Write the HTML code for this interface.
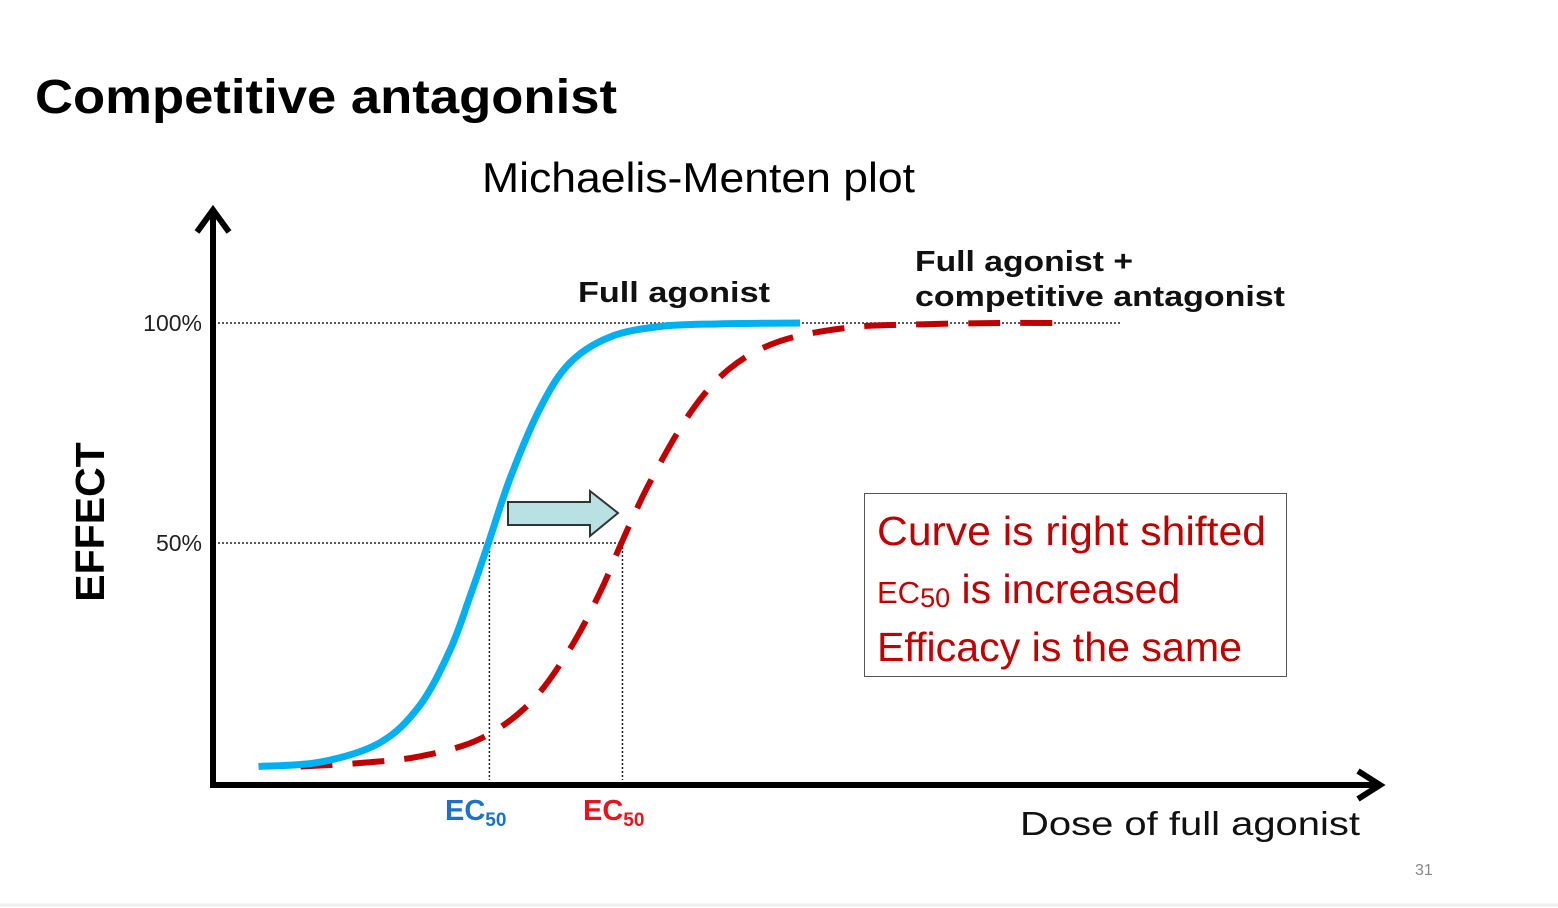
<!DOCTYPE html>
<html><head><meta charset="utf-8"><style>
body{margin:0;background:#fff;}
svg{display:block;font-family:"Liberation Sans",sans-serif;}
</style></head><body>
<svg width="1558" height="908" viewBox="0 0 1558 908">
<text x="35" y="113" font-size="48" font-weight="bold" fill="#000" textLength="582" lengthAdjust="spacingAndGlyphs">Competitive antagonist</text>
<text x="482" y="192" font-size="42" fill="#000" textLength="433" lengthAdjust="spacingAndGlyphs">Michaelis-Menten plot</text>
<g id="chart"></g>
<text x="0" y="0" transform="translate(104,522) rotate(-90)" text-anchor="middle" font-size="41" font-weight="bold">EFFECT</text>
<text x="1020" y="835" font-size="33" fill="#111" textLength="340" lengthAdjust="spacingAndGlyphs">Dose of full agonist</text>
<text x="915" y="271" font-size="29" font-weight="bold" fill="#111" textLength="218" lengthAdjust="spacingAndGlyphs">Full agonist +</text>
<text x="915" y="306" font-size="29" font-weight="bold" fill="#111" textLength="370" lengthAdjust="spacingAndGlyphs">competitive antagonist</text>
<text x="578" y="302" font-size="29" font-weight="bold" fill="#111" textLength="192" lengthAdjust="spacingAndGlyphs">Full agonist</text>
<text x="445" y="820" font-size="29" font-weight="bold" fill="#1a73c8">EC<tspan font-size="19" dy="6">50</tspan></text>
<text x="583" y="820" font-size="29" font-weight="bold" fill="#e8131b">EC<tspan font-size="19" dy="6">50</tspan></text>
<g>
<rect x="864.5" y="493.5" width="422" height="183" fill="#fff" stroke="#555" stroke-width="1"/>
<text x="877" y="545" font-size="41" fill="#c00000" textLength="389" lengthAdjust="spacingAndGlyphs">Curve is right shifted</text>
<text x="877" y="603" font-size="41" fill="#c00000"><tspan font-size="31">EC</tspan><tspan font-size="27" dy="4">50</tspan><tspan dy="-4"> is increased</tspan></text>
<text x="877" y="661" font-size="41" fill="#c00000" textLength="365" lengthAdjust="spacingAndGlyphs">Efficacy is the same</text>
</g>
<text x="1415" y="875" font-size="16" fill="#888">31</text>
<line x1="0" y1="905" x2="1558" y2="905" stroke="#eee" stroke-width="3"/>
</svg>
<script>
const yTickValues=[50,100];
const yTickLabels=["50%","100%"];
const agonistDose=[0.39,0.92,1.43,1.77,2.03,2.20,2.36,2.55,2.81,3.06,3.40,3.83,4.34,5.03];
const agonistEffect=[-0.8,0.2,4.6,13,25.6,37.7,50,65,81,91,96.8,99.2,99.8,100];
const antagonistDose=[0.75,1.26,1.77,2.29,2.72,3.06,3.32,3.50,3.74,4.09,4.43,4.86,5.46,6.06,6.74,7.26];
const antagonistEffect=[-0.8,0,1.5,5.5,13.7,26,39,50,63.6,79.6,89.7,95.9,99,99.7,100,100];
const ec50Agonist=2.36;
const ec50Antagonist=3.50;

const NS="http://www.w3.org/2000/svg";
const g=document.getElementById('chart');
const X0=213,XPX=116.7,Y0=763,YPX=4.4;
function xs(d){return X0+d*XPX;}
function ys(e){return Y0-e*YPX;}
function mk(tag,attrs){const el=document.createElementNS(NS,tag);for(const k in attrs)el.setAttribute(k,attrs[k]);g.appendChild(el);return el;}
function smooth(xsArr,ysArr){
  const p=xsArr.map((d,i)=>[xs(d),ys(ysArr[i])]);
  let s='M'+p[0][0]+','+p[0][1];
  for(let i=0;i<p.length-1;i++){
    const p0=p[i-1]||p[i],p1=p[i],p2=p[i+1],p3=p[i+2]||p2;
    const c1=[p1[0]+(p2[0]-p0[0])/6,p1[1]+(p2[1]-p0[1])/6];
    const c2=[p2[0]-(p3[0]-p1[0])/6,p2[1]-(p3[1]-p1[1])/6];
    s+=' C'+c1+' '+c2+' '+p2;
  }
  return s;
}
yTickValues.forEach((v,i)=>{
  const xEnd=v===100?1120:xs(ec50Antagonist);
  const l=mk('line',{x1:218,y1:ys(v),x2:xEnd,y2:ys(v),stroke:'#222','stroke-width':1.5,'stroke-dasharray':'2,2'});
  
  
  const t=mk('text',{x:202,y:ys(v)+8,'text-anchor':'end','font-size':23,fill:'#222'});
  t.textContent=yTickLabels[i];
  
  
});
[ec50Agonist,ec50Antagonist].forEach((d,i)=>{
  const l=mk('line',{x1:xs(d)+1,y1:ys(50),x2:xs(d)+1,y2:780,stroke:'#222','stroke-width':1.5,'stroke-dasharray':'2,2'});
  
  
});
const red=mk('path',{d:smooth(antagonistDose,antagonistEffect),fill:'none',stroke:'#c00000','stroke-width':6,'stroke-dasharray':'32,20'});


const blue=mk('path',{d:smooth(agonistDose,agonistEffect),fill:'none',stroke:'#00b0f0','stroke-width':7});


const ya=mk('path',{d:'M213,787 L213,212 M197,232 L213,210 L229,232',fill:'none',stroke:'#000','stroke-width':6});


const xa=mk('path',{d:'M210,785 L1378,785 M1358,771 L1380,785 L1358,799',fill:'none',stroke:'#000','stroke-width':6});


const ar=mk('path',{d:'M508,502 L590,502 L590,491 L618,513 L590,536 L590,525 L508,525 Z',fill:'#b9e0e3',stroke:'#333','stroke-width':2});


</script>
</body></html>
